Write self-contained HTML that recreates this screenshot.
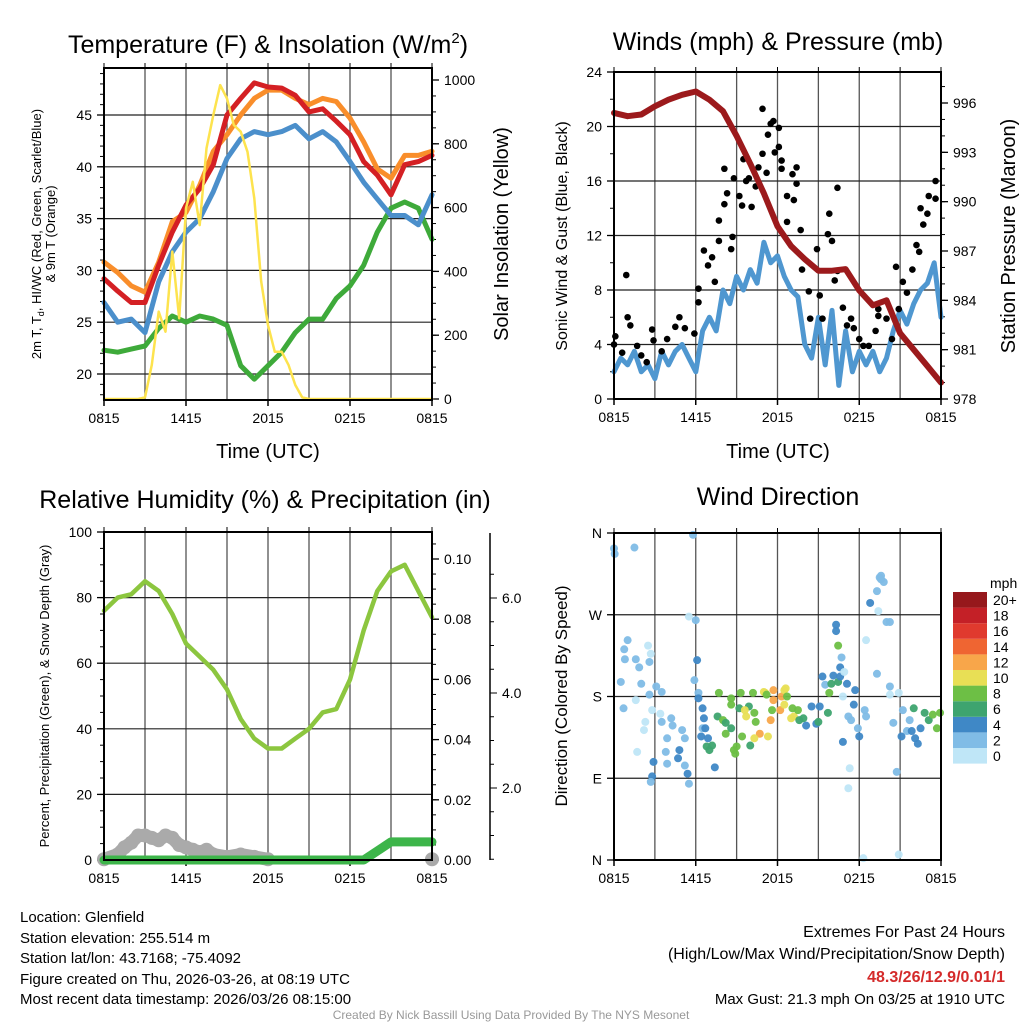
<!DOCTYPE html>
<html><head><meta charset="utf-8"><style>
body{margin:0;background:#fff;width:1024px;height:1024px;overflow:hidden}
svg{font-family:"Liberation Sans",sans-serif}
</style></head><body>
<svg id="c" width="1024" height="1024" viewBox="0 0 1024 1024">
<g font-size="25" text-anchor="middle">
<text x="268" y="53">Temperature (F) &amp; Insolation (W/m<tspan font-size="15" dy="-10">2</tspan><tspan dy="10">)</tspan></text>
<text x="778" y="50">Winds (mph) &amp; Pressure (mb)</text>
<text x="265" y="508">Relative Humidity (%) &amp; Precipitation (in)</text>
<text x="778" y="505">Wind Direction</text>
</g>
<g font-size="20" text-anchor="middle">
<text x="268" y="458">Time (UTC)</text>
<text x="778" y="458">Time (UTC)</text>
<text transform="translate(508,234) rotate(-90)">Solar Insolation (Yellow)</text>
<text transform="translate(1015,236) rotate(-90)">Station Pressure (Maroon)</text>
<text font-size="16" transform="translate(567,236) rotate(-90)">Sonic Wind &amp; Gust (Blue, Black)</text>
<text font-size="17" transform="translate(567,696) rotate(-90)">Direction (Colored By Speed)</text>
<text font-size="13" transform="translate(41,234) rotate(-90)">2m T, T<tspan font-size="9" dy="3">d</tspan><tspan dy="-3">, HI/WC (Red, Green, Scarlet/Blue)</tspan></text>
<text font-size="13" transform="translate(55,234) rotate(-90)">&amp; 9m T (Orange)</text>
<text font-size="13" transform="translate(49,696) rotate(-90)">Percent, Precipitation (Green), &amp; Snow Depth (Gray)</text>
</g>
<g font-size="15">
<text x="20" y="922">Location: Glenfield</text>
<text x="20" y="943">Station elevation: 255.514 m</text>
<text x="20" y="963">Station lat/lon: 43.7168; -75.4092</text>
<text x="20" y="984">Figure created on Thu, 2026-03-26, at 08:19 UTC</text>
<text x="20" y="1004">Most recent data timestamp: 2026/03/26 08:15:00</text>
</g>
<g font-size="16" text-anchor="end">
<text x="1005" y="937">Extremes For Past 24 Hours</text>
<text x="1005" y="959">(High/Low/Max Wind/Precipitation/Snow Depth)</text>
<text x="1005" y="982" fill="#d42a2a" font-weight="bold">48.3/26/12.9/0.01/1</text>
<text x="1005" y="1004" font-size="15">Max Gust: 21.3 mph On 03/25 at 1910 UTC</text>
</g>
<text x="511" y="1019" font-size="12" fill="#999" text-anchor="middle">Created By Nick Bassill Using Data Provided By The NYS Mesonet</text>
</svg>
<script>
const hours = [0,1,2,3,4,5,6,7,8,9,10,11,12,13,14,15,16,17,18,19,20,21,22,23,24];
const xTickLabels = ["0815","1415","2015","0215","0815"];
const tempRed = [29.2,28,26.9,26.9,30.5,33.7,36.3,37.9,40.2,45,46.6,48.1,47.7,47.6,46.9,45.3,45.6,44.4,43.1,40.5,39.2,37.3,40.2,40.5,41.1];
const tempOrange = [30.8,29.8,28.5,27.9,30.8,34.7,35.6,38.2,41.5,43.1,45,46.6,47.4,47.4,46.6,46,46.6,46.3,44.7,42.4,39.8,38.9,41.1,41.1,41.5];
const heatIndexBlue = [26.9,25,25.3,24,28.9,31.8,33.7,35,37.6,40.8,42.7,43.4,43.1,43.4,44,42.7,43.4,42.4,40.5,38.5,36.9,35.3,35.3,34.4,37.3];
const dewpointGreen = [22.3,22.1,22.4,22.7,24.4,25.6,25,25.6,25.3,24.7,20.8,19.5,20.8,22.1,24,25.3,25.3,27.3,28.5,30.5,33.7,36,36.6,36,33];
const halfHours = [0,0.5,1,1.5,2,2.5,3,3.5,4,4.5,5,5.5,6,6.5,7,7.5,8,8.5,9,9.5,10,10.5,11,11.5,12,12.5,13,13.5,14,14.5,15,15.5,16,16.5,17,17.5,18,18.5,19,19.5,20,20.5,21,21.5,22,22.5,23,23.5,24];
const solar = [0,0,0,0,0,0,5,107,274,211,462,253,598,681,545,786,890,984,942,859,838,775,629,368,232,148,148,107,44,5,0,0,0,0,0,0,0,0,0,0,0,0,0,0,0,0,0,0,0];
const tempTicks = [20,25,30,35,40,45];
const solarTicks = [0,200,400,600,800,1000];
const sonicWind = [2,3,2.5,3.5,2,2.5,1.5,3.5,2.5,3.5,4,3,2,5,6,5,8,7,9,8,9.5,8.5,11.5,10,10.5,9,8,7.5,4,3,6,2.5,6.5,1,5,2,3.5,2.5,3.5,2,3,5,6.5,5.5,7,8,8.5,10,6];
const pressure = [995.4,995.2,995.3,995.8,996.2,996.5,996.7,996.2,995.5,994,992.3,990.5,988.5,987.3,986.5,985.8,985.8,985.9,984.6,983.7,984,982,981,980,979];
const gustHours = [0,0.1,0.6,0.9,1,1.2,1.7,2,2.4,2.8,2.9,3.5,3.9,4.5,4.8,5.2,5.9,6.2,6.2,6.6,6.9,7.2,7.4,7.7,7.7,8.1,8.1,8.3,8.6,8.7,8.8,9.2,9.4,9.5,9.7,9.9,10.1,10.4,10.6,10.9,10.9,11.2,11.3,11.5,11.7,11.8,12.1,12.1,12.3,12.3,12.7,12.7,13.1,13.2,13.4,13.4,13.7,13.8,14.3,14.4,14.9,15.1,15.3,15.7,15.8,16,16.2,16.4,16.4,16.8,17.1,17.4,17.6,18,18.3,18.7,19.2,19.4,19.4,20,20.4,20.7,20.9,21.2,21.5,21.9,22.2,22.4,22.5,22.7,23,23.1,23.6,23.6];
const gustValues = [4,4.6,3.4,9.1,6,5.4,3.9,3.2,2.7,5.1,4.3,3.5,4.4,5.3,6,5.2,4.8,7.1,8.1,10.9,9.8,10.4,8.6,13.1,11.6,16.9,14.3,15.1,11,11.9,16.2,14.9,14.2,17.6,16,16.2,14.1,15.6,17,21.3,18,16.6,19.4,20.2,20.4,18.1,19.9,18.5,17.5,16.9,14.9,13,16.5,14.6,17,15.8,12.4,9.5,7.9,5.9,11,7.6,5.9,12.1,13.6,11.6,8.7,15.5,9.4,6.7,5.4,5.9,5.2,4.4,3.9,3.9,5,6.6,6.1,5.9,4.4,9.7,6.6,8.6,7.8,9.5,11.3,10.8,14,12.8,13.6,14.9,16,14.7];
const windTicks = [0,4,8,12,16,20,24];
const pressureTicks = [978,981,984,987,990,993,996];
const rh = [76,80,81,85,82,75,66,62,58,52,43,37,34,34,37,40,45,46,55,70,82,88,90,82,74];
const precip = [0,0,0,0,0,0,0,0,0,0,0,0,0,0,0,0,0,0,0,0,0.003,0.006,0.006,0.006,0.006];
const snowHours = [0,1,1.5,2,2.5,3,3.5,4,4.5,5,5.5,6,6.5,7,7.5,8,9,10,11,12,24];
const snowDepth = [0.5,0.6,0.75,0.85,1.0,1.0,0.95,0.9,1.0,0.95,0.8,0.75,0.7,0.65,0.7,0.6,0.55,0.6,0.55,0.5,0.5];
const rhTicks = [0,20,40,60,80,100];
const precipTicks = [0,0.02,0.04,0.06,0.08,0.10];
const snowTicks = [2,4,6];
const dirHours = [0,0.05,1.5,5.8,5.5,6,1,0.75,0.8,1.6,1.85,2.5,2.7,2.6,0.5,2,3.1,3.5,2.6,1.6,0.7,2.8,3.4,2.3,2.2,3.5,4.2,4.3,3.9,5,5.2,3.8,1.7,4.8,4.7,3.9,2.9,2.8,2.7,5.2,5.4,5.5,6.1,5.9,6.2,6.2,6.5,6.6,6.5,6.4,6.7,6.9,6.8,7,7.2,7.4,7.7,7.6,8,8.2,8.6,8.2,8.6,8.6,8.8,8.9,9,9.3,9.2,9.4,9.9,10,9.6,9.7,10.2,10.3,10.4,10.7,10.3,11,11.1,11.2,11.3,11.5,11.6,11.7,11.7,12.2,12.3,12.5,12.6,12.5,12.7,13,13.2,13.1,13.5,13.6,13.9,14.1,14.5,14.85,15.1,15,15.3,15.5,15.7,15.8,15.95,16.1,16.45,16.6,16.6,16.45,16.7,16.3,16.3,16.9,17.1,16.8,17.7,17.6,17.2,17.4,17.9,18,16.8,17.3,17.2,18.3,18.4,18.5,18.5,19.3,19.4,18.8,19.3,19.6,19.5,19.6,19.8,20,20.25,20.5,20.25,20.25,20.9,20.75,20.9,21.2,21.1,21.5,21.7,21.85,22,22.1,22.3,22.5,22.8,23.1,23.4,23.7,23.93];
const dirDegrees = [343,337,344,358,268,264,242,232,221,221,212,236,227,218,196,194,191,185,182,176,167,165,161,152,143,152,156,148,134,143,134,119,119,121,112,106,108,92,86,104,95,84,220,198,184,178,167,156,145,136,145,134,125,121,126,102,184,158,154,151,145,139,178,171,121,117,125,184,167,136,169,126,165,158,184,162,152,139,134,185,184,182,136,154,165,187,176,165,180,187,189,171,180,156,158,167,165,154,156,148,169,150,169,152,202,193,162,184,194,203,196,202,212,236,223,259,252,207,194,180,187,171,158,154,145,136,130,101,79,2,165,158,242,205,274,283,296,309,311,313,306,262,262,151,191,182,184,97,6,165,136,142,154,142,167,134,128,145,162,154,160,145,162,156,145];
const dirSpeeds = [2,2,2,2,0,2,2,2,2,2,2,0,0,2,2,2,2,2,2,0,2,0,0,0,0,2,2,2,2,2,2,2,0,4,4,2,4,4,2,2,4,2,4,2,2,4,4,4,2,4,4,4,6,6,6,4,8,6,8,6,6,8,8,8,8,8,8,8,6,8,6,6,10,10,8,8,8,12,10,10,10,8,10,12,8,12,12,12,12,10,10,10,8,10,10,8,8,6,6,4,4,4,4,6,4,2,6,8,6,4,6,4,4,8,2,4,4,0,4,0,4,4,2,2,2,4,4,0,0,0,2,2,0,2,0,4,2,2,2,2,2,2,2,2,2,0,0,2,0,2,4,2,2,4,6,4,4,4,6,6,8,8,8,10,8];
const dirTicks = [0,90,180,270,360];
const dirTickLabels = ["N","E","S","W","N"];
const speedLevels = ["0","2","4","6","8","10","12","14","16","18","20+"];
const speedColors = ["#bfe6f7","#80bce6","#3f88c6","#3ea46f","#6dbf45","#e8df55","#f8a64a","#ef6532","#e03a2e","#c42027","#96181c"];

const svg = document.getElementById('c');
const NS = 'http://www.w3.org/2000/svg';
function mk(tag, attrs, parent){const e=document.createElementNS(NS,tag);for(const k in attrs)e.setAttribute(k,attrs[k]);(parent||svg).appendChild(e);return e;}
function lin(d0,d1,r0,r1){return v=>r0+(v-d0)*(r1-r0)/(d1-d0);}
function path(xs,ys,fx,fy){return xs.map((h,i)=>(i?'L':'M')+fx(h).toFixed(1)+','+fy(ys[i]).toFixed(1)).join('');}

function frame(g,X0,X1,T,B,hGrid,fx){
  for(let h=0;h<=24;h+=3){const l=mk('line',{x1:fx(h),x2:fx(h),y1:T,y2:B,stroke:'#555','stroke-width':1.3},g);
    
    }
  hGrid.forEach(y=>{const l=mk('line',{x1:X0,x2:X1,y1:y,y2:y,stroke:'#222','stroke-width':1.2},g);
    
    });
  xTickLabels.forEach((t,i)=>{const x=fx(i*6);
    const tk=mk('line',{x1:x,x2:x,y1:B,y2:B+6,stroke:'#000','stroke-width':1.5},g);
    
    
    const tx=mk('text',{x:x,y:B+23,'font-size':14,'text-anchor':'middle'},g);tx.textContent=t;
    
    });
  for(let h=0;h<=24;h+=3){const tk=mk('line',{x1:fx(h),x2:fx(h),y1:T,y2:T-5,stroke:'#000'},g);
    
    }
}
function yAxis(g,x,dir,ticks,fy,labels,minorStep,lo,hi,fs){
  ticks.forEach((v,i)=>{const y=fy(v);
    const t=mk('line',{x1:x,x2:x+dir*7,y1:y,y2:y,stroke:'#000','stroke-width':1.3},g);
    
    
    const tx=mk('text',{x:x+dir*12,y:y+5,'font-size':fs||14,'text-anchor':dir<0?'end':'start'},g);tx.textContent=labels[i];
    
    });
  if(minorStep){for(let v=lo;v<=hi+1e-9;v+=minorStep){const y=fy(v);
    const t=mk('line',{x1:x,x2:x+dir*4,y1:y,y2:y,stroke:'#000','stroke-width':1},g);
    
    }}
}
function border(g,X0,X1,T,B){const r=mk('rect',{x:X0,y:T,width:X1-X0,height:B-T,fill:'none',stroke:'#000','stroke-width':2},g);
  
  }
function line(g,d,color,w,name){const p=mk('path',{d:d,fill:'none',stroke:color,'stroke-width':w,'stroke-linejoin':'round','stroke-linecap':'round'},g);
  
  return p;}

// Panel 1
const g1=mk('g',{});


const fx1=lin(0,24,104,432), fyT=lin(20,45,374,115), fyS=lin(0,1000,399,80);
frame(g1,104,432,68,400,tempTicks.map(fyT),fx1);
yAxis(g1,104,-1,tempTicks,fyT,tempTicks.map(String),1,18,49);
yAxis(g1,432,1,solarTicks,fyS,solarTicks.map(String),50,0,1000);
line(g1,path(hours,dewpointGreen,fx1,fyT),'#3eaa3a',5,'dewpoint-line');
line(g1,path(hours,heatIndexBlue,fx1,fyT),'#4b8fcb',5,'heat-index-line');
line(g1,path(hours,tempOrange,fx1,fyT),'#f98e2b',5,'temp-9m-line');
line(g1,path(hours,tempRed,fx1,fyT),'#d42024',5,'temp-2m-line');
line(g1,path(halfHours,solar,fx1,fyS),'#fde34e',2.5,'solar-line');
border(g1,104,432,68,400);

// Panel 2
const g2=mk('g',{});


const fx2=lin(0,24,614,941), fyW=lin(0,24,399,72), fyP=lin(978,996,399,103);
frame(g2,614,941,72,399,windTicks.map(fyW),fx2);
yAxis(g2,614,-1,windTicks,fyW,windTicks.map(String),2,0,24);
yAxis(g2,941,1,pressureTicks,fyP,pressureTicks.map(String),1,978,997);
line(g2,path(halfHours,sonicWind,fx2,fyW),'#4f97d0',5,'sonic-wind-line');
gustHours.forEach((h,i)=>{const c=mk('circle',{cx:fx2(h),cy:fyW(gustValues[i]),r:3.3,fill:'#000'},g2);
  
  });
line(g2,path(hours,pressure,fx2,fyP),'#9c1a1c',6,'pressure-line');
border(g2,614,941,72,399);

// Panel 3
const g3=mk('g',{});


const fx3=lin(0,24,104,432), fyR=lin(0,100,860,532), fyPr=lin(0,0.1,860,559), fySn=lin(0,6,883,598);
frame(g3,104,432,532,860,rhTicks.map(fyR),fx3);
yAxis(g3,104,-1,rhTicks,fyR,rhTicks.map(String),5,0,100);
yAxis(g3,432,1,precipTicks,fyPr,precipTicks.map(v=>v.toFixed(2)),0.005,0,0.105);
const ax=mk('line',{x1:490,x2:490,y1:533,y2:860,stroke:'#000','stroke-width':1.5},g3);


snowTicks.forEach(v=>{const y=fySn(v);const t=mk('line',{x1:490,x2:497,y1:y,y2:y,stroke:'#000'},g3);
  
  
  const tx=mk('text',{x:502,y:y+5,'font-size':14},g3);tx.textContent=v.toFixed(1);
  
  });
for(let v=0.5;v<=6.9;v+=0.5){const y=fySn(v);if(y<533||y>860)continue;const t=mk('line',{x1:490,x2:494,y1:y,y2:y,stroke:'#000'},g3);
  
  }
line(g3,path(hours,rh,fx3,fyR),'#8cc63f',4.5,'rh-line');
snowHours.forEach((h,i)=>{const c=mk('circle',{cx:fx3(h),cy:Math.min(fySn(snowDepth[i]),860),r:7,fill:'#aaa'},g3);
  
  });
line(g3,path(snowHours.slice(0,20),snowDepth.slice(0,20),fx3,v=>Math.min(fySn(v),860)),'#aaa',13,'snow-depth-line');
line(g3,path(hours,precip,fx3,fyPr),'#3db54a',9,'precip-line');
border(g3,104,432,532,860);

// Panel 4
const g4=mk('g',{});


const fx4=lin(0,24,614,941), fyD=lin(0,360,860,533);
frame(g4,614,941,533,860,dirTicks.map(fyD),fx4);
yAxis(g4,614,-1,dirTicks,fyD,dirTickLabels,null);
dirHours.forEach((h,i)=>{const c=mk('circle',{cx:fx4(h),cy:fyD(dirDegrees[i]),r:4,fill:speedColors[dirSpeeds[i]/2],opacity:0.95},g4);
  
  });
border(g4,614,941,533,860);
// colorbar
const cb=mk('g',{});


const ct=mk('text',{x:990,y:588,'font-size':14},cb);ct.textContent='mph';


speedLevels.forEach((s,i)=>{const y=592+(10-i)*15.6;
  const r=mk('rect',{x:953,y:y,width:34,height:15.6,fill:speedColors[i]},cb);
  
  
  const t=mk('text',{x:993,y:y+13,'font-size':14},cb);t.textContent=s;
  
  });
</script>
</body></html>
